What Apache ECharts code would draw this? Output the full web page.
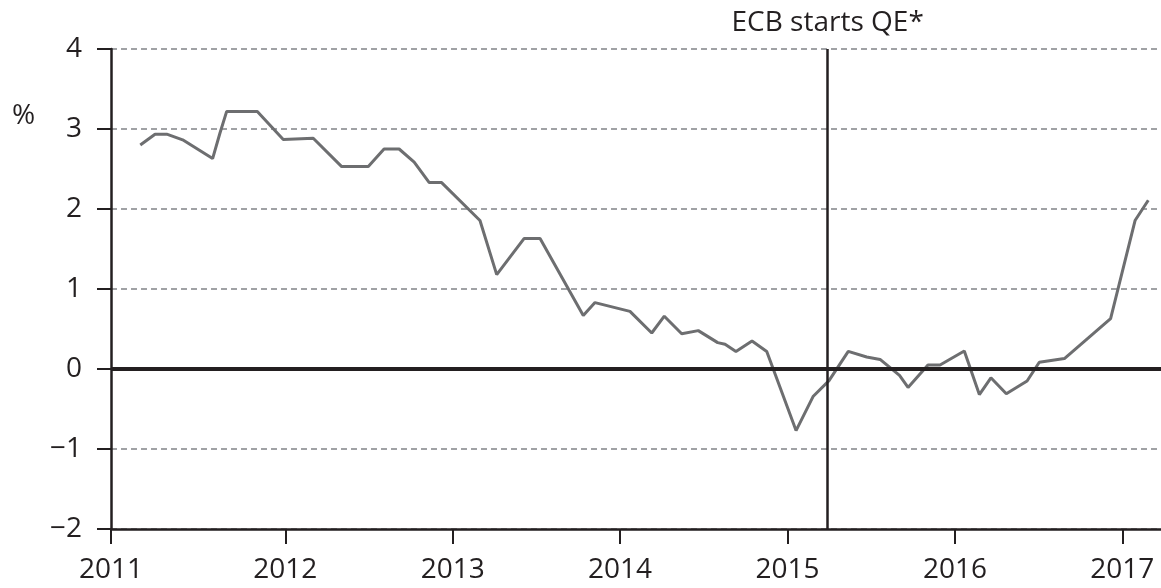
<!DOCTYPE html>
<html>
<head>
<meta charset="utf-8">
<style>
html,body{margin:0;padding:0;background:#fff;}
#chart{width:1161px;height:588px;}
</style>
<script src="https://cdn.jsdelivr.net/npm/echarts@6/dist/echarts.min.js"></script>
</head>
<body>
<div id="chart"></div>
<script>
// ---- data (decimal years, %) ----
const dates = [
  2011.134, 2011.222, 2011.292, 2011.387, 2011.566, 2011.610, 2011.650, 2011.833,
  2011.988, 2012.167, 2012.337, 2012.496, 2012.590, 2012.680, 2012.770, 2012.860,
  2012.934, 2013.163, 2013.263, 2013.426, 2013.522, 2013.780, 2013.850, 2014.059,
  2014.189, 2014.264, 2014.368, 2014.467, 2014.583, 2014.627, 2014.692, 2014.788,
  2014.876, 2015.051, 2015.154, 2015.248, 2015.363, 2015.473, 2015.553, 2015.669,
  2015.720, 2015.839, 2015.911, 2016.056, 2016.146, 2016.215, 2016.307, 2016.431,
  2016.504, 2016.654, 2016.930, 2017.076, 2017.155
];
const values = [
  2.80, 2.935, 2.935, 2.865, 2.63, 2.95, 3.22, 3.22,
  2.87, 2.885, 2.53, 2.53, 2.75, 2.75, 2.585, 2.33,
  2.33, 1.856, 1.18, 1.63, 1.63, 0.67, 0.83, 0.72,
  0.45, 0.66, 0.44, 0.48, 0.33, 0.31, 0.22, 0.35,
  0.22, -0.77, -0.34, -0.145, 0.22, 0.15, 0.12, -0.08,
  -0.23, 0.05, 0.05, 0.225, -0.32, -0.11, -0.31, -0.15,
  0.085, 0.13, 0.63, 1.856, 2.11
];
const xTickYears = [2011, 2012, 2013, 2014, 2015, 2016, 2017];
const yTicks = [-2, -1, 0, 1, 2, 3, 4];
const qeDate = 2015.236;
const qeLabel = 'ECB starts QE*';
const unitLabel = '%';

// ---- chart ----
const xMin = 2010.959, xMax = 2017.231;
const ink = '#231f20';
const font = 'Open Sans';
// first year label sits on the axis origin
const xTickPos = xTickYears.map((y, i) => (i === 0 ? xMin : y));
const chart = echarts.init(document.getElementById('chart'));
chart.setOption({
  animation: false,
  backgroundColor: '#fff',
  title: {
    text: unitLabel, left: 7, top: 97,
    textStyle: { fontFamily: font, fontSize: 28, fontWeight: 'normal', color: ink }
  },
  grid: { left: 111, right: 0, top: 49, bottom: 59, containLabel: false, outerBoundsMode: 'none' },
  xAxis: {
    type: 'value', min: xMin, max: xMax,
    splitLine: { show: false },
    axisLine: { show: true, onZero: false, lineStyle: { color: ink, width: 2.5 } },
    axisTick: {
      show: true, length: 15, lineStyle: { color: ink, width: 2 },
      customValues: xTickPos
    },
    axisLabel: {
      customValues: xTickPos,
      formatter: v => String(Math.round(v)),
      margin: 27, fontFamily: font, fontSize: 28, color: ink
    }
  },
  yAxis: {
    type: 'value', min: yTicks[0], max: yTicks[yTicks.length - 1], interval: 1,
    axisLine: { show: true, lineStyle: { color: ink, width: 2.5 } },
    axisTick: { show: true, length: 14, lineStyle: { color: ink, width: 2 } },
    axisLabel: {
      formatter: v => String(v).replace('-', '\u2212'),
      margin: 29, fontFamily: font, fontSize: 28, color: ink
    },
    splitLine: { show: true, lineStyle: { color: '#a0a2a5', width: 2.2, type: [6, 4] } }
  },
  series: [{
    type: 'line',
    data: dates.map((d, i) => [d, values[i]]),
    symbol: 'none',
    lineStyle: { color: '#6d6e70', width: 3 },
    z: 3,
    markLine: {
      silent: true, symbol: ['none', 'none'], animation: false,
      data: [
        { yAxis: 0, lineStyle: { color: ink, width: 4, type: 'solid' }, label: { show: false } },
        {
          xAxis: qeDate, lineStyle: { color: ink, width: 2.5, type: 'solid' },
          label: {
            show: true, position: 'end', formatter: qeLabel, distance: 12,
            fontFamily: font, fontSize: 28, color: ink
          }
        }
      ]
    }
  }]
});
</script>
</body>
</html>
